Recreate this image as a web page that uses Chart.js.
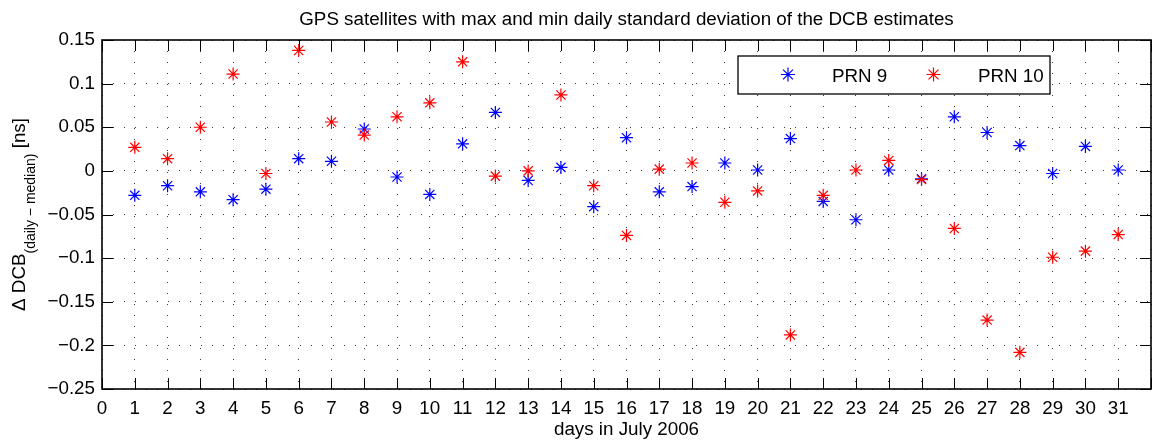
<!DOCTYPE html>
<html>
<head>
<meta charset="utf-8">
<script src="https://cdn.jsdelivr.net/npm/chart.js"></script>
<style>
  html, body { margin: 0; padding: 0; background: #fff; overflow: hidden; }
  #wrap { width: 1160px; height: 446px; }
</style>
</head>
<body>
<div id="wrap"><canvas id="dcb" width="1160" height="446"></canvas></div>
<script>
// days in July 2006
const days = [1, 2, 3, 4, 5, 6, 7, 8, 9, 10, 11, 12, 13, 14, 15, 16,
  17, 18, 19, 20, 21, 22, 23, 24, 25, 26, 27, 28, 29, 30, 31];

// delta DCB (daily - median) [ns]
const prn9 = [-0.028, -0.017, -0.024, -0.033, -0.021, 0.014, 0.011, 0.048, -0.007, -0.027,
  0.031, 0.067, -0.011, 0.004, -0.041, 0.038, -0.024, -0.018, 0.009, 0.001,
  0.037, -0.035, -0.056, 0.001, -0.009, 0.062, 0.044, 0.029, -0.003, 0.028, 0.001];
const prn10 = [0.027, 0.014, 0.050, 0.111, -0.003, 0.138, 0.056, 0.041, 0.062, 0.078,
  0.125, -0.006, 0.000, 0.087, -0.017, -0.074, 0.002, 0.009, -0.036, -0.023,
  -0.188, -0.028, 0.001, 0.012, -0.010, -0.066, -0.171, -0.208, -0.099, -0.092, -0.073];

const xRange = [0, 32];
const yRange = [-0.25, 0.15];
const yStep = 0.05;

const FONT = '"Liberation Sans", Arial, Helvetica, sans-serif';
const FS = 18.8;
const TICK = 11;

function star(ctx, x, y, r, color) {
  const d = r * Math.SQRT1_2;
  ctx.save();
  ctx.strokeStyle = color;
  ctx.lineWidth = 1.2;
  ctx.beginPath();
  ctx.moveTo(x - r, y); ctx.lineTo(x + r, y);
  ctx.moveTo(x, y - r); ctx.lineTo(x, y + r);
  ctx.moveTo(x - d, y - d); ctx.lineTo(x + d, y + d);
  ctx.moveTo(x - d, y + d); ctx.lineTo(x + d, y - d);
  ctx.stroke();
  ctx.restore();
}

const decor = {
  id: 'decor',
  afterDraw(chart) {
    const { ctx, chartArea: a, scales: { x, y } } = chart;
    ctx.save();

    // inward tick marks on all four sides
    ctx.strokeStyle = '#000';
    ctx.lineWidth = 1;
    ctx.beginPath();
    x.ticks.forEach(t => {
      const px = Math.round(x.getPixelForValue(t.value)) + 0.5;
      ctx.moveTo(px, a.bottom); ctx.lineTo(px, a.bottom - TICK);
      ctx.moveTo(px, a.top); ctx.lineTo(px, a.top + TICK);
    });
    y.ticks.forEach(t => {
      const py = Math.round(y.getPixelForValue(t.value)) + 0.5;
      ctx.moveTo(a.left, py); ctx.lineTo(a.left + TICK, py);
      ctx.moveTo(a.right, py); ctx.lineTo(a.right - TICK, py);
    });
    ctx.stroke();

    // axes box
    ctx.lineWidth = 1.6;
    ctx.strokeRect(a.left, a.top, a.right - a.left, a.bottom - a.top);

    const cx = (a.left + a.right) / 2;
    ctx.fillStyle = '#000';
    ctx.textBaseline = 'alphabetic';
    ctx.textAlign = 'center';
    ctx.font = FS + 'px ' + FONT;
    ctx.fillText('GPS satellites with max and min daily standard deviation of the DCB estimates', cx, 25);
    ctx.fillText('days in July 2006', cx, 435);

    // y label with subscript, rotated
    const main1 = '\u0394 DCB', sub = '(daily \u2212 median)', main2 = ' [ns]';
    const subFont = '14px ' + FONT, mainFont = FS + 'px ' + FONT;
    ctx.font = mainFont;
    const w1 = ctx.measureText(main1).width, w3 = ctx.measureText(main2).width;
    ctx.font = subFont;
    const w2 = ctx.measureText(sub).width;
    const total = w1 + w2 + w3;
    const cy = (a.top + a.bottom) / 2;
    ctx.save();
    ctx.rotate(-Math.PI / 2);
    ctx.textAlign = 'left';
    let tx = -(cy + total / 2);
    ctx.font = mainFont; ctx.fillText(main1, tx, 25); tx += w1;
    ctx.font = subFont; ctx.fillText(sub, tx, 35); tx += w2;
    ctx.font = mainFont; ctx.fillText(main2, tx, 25);
    ctx.restore();

    // legend
    ctx.fillStyle = '#fff';
    ctx.fillRect(738, 56, 312, 38);
    ctx.lineWidth = 1.3;
    ctx.strokeStyle = '#000';
    ctx.strokeRect(738, 56, 312, 38);
    star(ctx, 788, 74.5, 7, '#0000ff');
    star(ctx, 933.5, 74.5, 7, '#ff0000');
    ctx.fillStyle = '#000';
    ctx.textAlign = 'left';
    ctx.font = FS + 'px ' + FONT;
    ctx.fillText('PRN 9', 832, 81.5);
    ctx.fillText('PRN 10', 978, 81.5);

    ctx.restore();
  }
};

new Chart(document.getElementById('dcb'), {
  type: 'scatter',
  data: {
    datasets: [
      {
        label: 'PRN 9',
        data: days.map((d, i) => ({ x: d, y: prn9[i] })),
        pointStyle: 'star',
        pointRadius: 6.5,
        pointBorderWidth: 1.2,
        borderColor: '#0000ff',
        backgroundColor: '#0000ff',
        order: 1
      },
      {
        label: 'PRN 10',
        data: days.map((d, i) => ({ x: d, y: prn10[i] })),
        pointStyle: 'star',
        pointRadius: 6.5,
        pointBorderWidth: 1.2,
        borderColor: '#ff0000',
        backgroundColor: '#ff0000',
        order: 0
      }
    ]
  },
  options: {
    responsive: false,
    animation: false,
    layout: { padding: { top: 40, right: 2, bottom: 0, left: 0 } },
    plugins: { legend: { display: false }, tooltip: { enabled: false }, title: { display: false } },
    scales: {
      x: {
        type: 'linear',
        min: xRange[0],
        max: xRange[1],
        afterFit: s => { s.height = 57; },
        grid: { color: '#3a3a3a', lineWidth: 1, drawTicks: false },
        border: { display: false, dash: [1, 10] },
        ticks: {
          stepSize: 1,
          autoSkip: false,
          maxRotation: 0,
          padding: 9,
          color: '#000',
          font: { family: FONT, size: FS },
          callback: v => (v === xRange[1] ? '' : String(v))
        }
      },
      y: {
        type: 'linear',
        min: yRange[0],
        max: yRange[1],
        afterFit: s => { s.width = 102; },
        grid: { color: '#3a3a3a', lineWidth: 1, drawTicks: false },
        border: { display: false, dash: [1, 10] },
        ticks: {
          stepSize: yStep,
          padding: 7,
          color: '#000',
          font: { family: FONT, size: FS },
          callback: v => {
            const r = Math.round(v * 100) / 100;
            if (r === 0) return '0';
            return (r < 0 ? '\u2212' : '') + String(Math.abs(r));
          }
        }
      }
    }
  },
  plugins: [decor]
});
</script>
</body>
</html>
